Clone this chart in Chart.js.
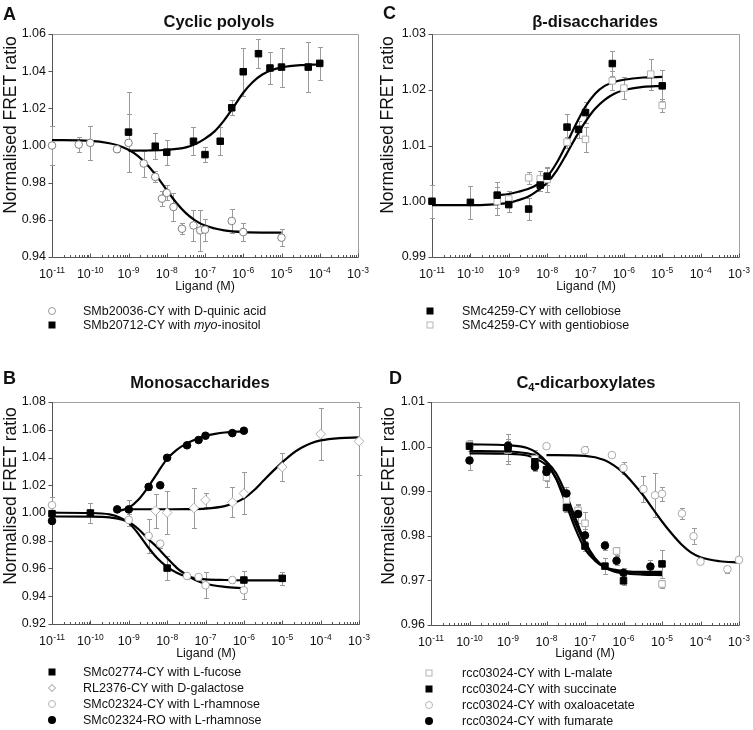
<!DOCTYPE html>
<html>
<head>
<meta charset="utf-8">
<script src="https://cdn.jsdelivr.net/npm/chart.js@4.4.1/dist/chart.umd.min.js"></script>
<style>
body { margin: 0; background: #fff; font-family: "Liberation Sans", Arial, sans-serif; color: #111; }
#fig { position: relative; width: 753px; height: 730px; overflow: hidden; }
canvas { position: absolute; }
.t { position: absolute; white-space: nowrap; }
.letter { font-weight: bold; font-size: 18px; line-height: 20px; }
.ttl { font-weight: bold; font-size: 16.5px; line-height: 20px; transform: translateX(-50%); }
.ttl sub { font-size: 11px; vertical-align: -3px; line-height: 0; }
.xt { font-size: 12.5px; line-height: 14px; transform: translate(-50%, -50%); }
.yt { font-size: 17.5px; line-height: 20px; transform: translate(-50%, -50%) rotate(-90deg); }
.leg { font-size: 12.5px; line-height: 14px; transform: translateY(-50%); }
.mk { position: absolute; box-sizing: border-box; transform: translate(-50%, -50%); }
.oc { width: 8px; height: 8px; border: 1px solid #9a9a9a; border-radius: 50%; background: #fff; }
.fc { width: 8px; height: 8px; border-radius: 50%; background: #000; }
.fs { width: 7px; height: 7px; background: #000; }
.os { width: 7px; height: 7px; border: 1px solid #b5b5b5; background: #fff; }
.od { width: 6px; height: 6px; border: 1px solid #b5b5b5; background: #fff; transform: translate(-50%, -50%) rotate(45deg); }
</style>
</head>
<body>
<div id="fig">
  <canvas id="chartA" width="376" height="300" style="left:0;top:0"></canvas>
  <canvas id="chartC" width="377" height="300" style="left:376px;top:0"></canvas>
  <canvas id="chartB" width="376" height="310" style="left:0;top:360px"></canvas>
  <canvas id="chartD" width="377" height="310" style="left:376px;top:360px"></canvas>

  <!-- A -->
  <div class="t letter" style="left:3px;top:4px">A</div>
  <div class="t ttl" style="left:219px;top:11px">Cyclic polyols</div>
  <div class="t yt" style="left:10px;top:125px">Normalised FRET ratio</div>
  <div class="t xt" style="left:205px;top:286px">Ligand (M)</div>
  <div class="mk oc" style="left:52px;top:311px"></div>
  <div class="t leg" style="left:83px;top:311px">SMb20036-CY with D-quinic acid</div>
  <div class="mk fs" style="left:52px;top:325px"></div>
  <div class="t leg" style="left:83px;top:325px">SMb20712-CY with <i>myo</i>-inositol</div>

  <!-- C -->
  <div class="t letter" style="left:383px;top:3px">C</div>
  <div class="t ttl" style="left:595px;top:11px">β-disaccharides</div>
  <div class="t yt" style="left:387px;top:125px">Normalised FRET ratio</div>
  <div class="t xt" style="left:586px;top:286px">Ligand (M)</div>
  <div class="mk fs" style="left:430px;top:311px"></div>
  <div class="t leg" style="left:462px;top:311px">SMc4259-CY with cellobiose</div>
  <div class="mk os" style="left:430px;top:325px"></div>
  <div class="t leg" style="left:462px;top:325px">SMc4259-CY with gentiobiose</div>

  <!-- B -->
  <div class="t letter" style="left:3px;top:368px">B</div>
  <div class="t ttl" style="left:200px;top:372px">Monosaccharides</div>
  <div class="t yt" style="left:10px;top:496px">Normalised FRET ratio</div>
  <div class="t xt" style="left:206px;top:653px">Ligand (M)</div>
  <div class="mk fs" style="left:52px;top:672px"></div>
  <div class="t leg" style="left:83px;top:672px">SMc02774-CY with L-fucose</div>
  <div class="mk od" style="left:52px;top:688px"></div>
  <div class="t leg" style="left:83px;top:688px">RL2376-CY with D-galactose</div>
  <div class="mk oc" style="left:52px;top:704px;border-color:#b5b5b5"></div>
  <div class="t leg" style="left:83px;top:704px">SMc02324-CY with L-rhamnose</div>
  <div class="mk fc" style="left:52px;top:720px"></div>
  <div class="t leg" style="left:83px;top:720px">SMc02324-RO with L-rhamnose</div>

  <!-- D -->
  <div class="t letter" style="left:389px;top:368px">D</div>
  <div class="t ttl" style="left:586px;top:372px">C<sub>4</sub>-dicarboxylates</div>
  <div class="t yt" style="left:388px;top:496px">Normalised FRET ratio</div>
  <div class="t xt" style="left:585px;top:653px">Ligand (M)</div>
  <div class="mk os" style="left:429px;top:673px"></div>
  <div class="t leg" style="left:462px;top:673px">rcc03024-CY with L-malate</div>
  <div class="mk fs" style="left:429px;top:689px"></div>
  <div class="t leg" style="left:462px;top:689px">rcc03024-CY with succinate</div>
  <div class="mk oc" style="left:429px;top:705px;border-color:#b5b5b5"></div>
  <div class="t leg" style="left:462px;top:705px">rcc03024-CY with oxaloacetate</div>
  <div class="mk fc" style="left:429px;top:721px"></div>
  <div class="t leg" style="left:462px;top:721px">rcc03024-CY with fumarate</div>
</div>

<script>
// ---------------
// DATA
// ---------------

// A: cyclic polyols
const quinicX = [1e-11, 5e-11, 1e-10, 5e-10, 1e-9, 2.5e-9, 5e-9, 7.5e-9, 1e-8, 1.5e-8, 2.5e-8, 5e-8, 7.5e-8, 1e-7, 5e-7, 1e-6, 1e-5];
const quinicY = [1.0000, 1.0005, 1.0014, 0.9980, 1.0014, 0.9903, 0.9831, 0.9714, 0.9745, 0.9669, 0.9552, 0.9570, 0.9543, 0.9547, 0.9594, 0.9534, 0.9504];
const quinicErr = [0.0105, 0.004, 0.009, 0.0015, 0.0155, 0.007, 0.003, 0.004, 0.004, 0.0075, 0.003, 0.0085, 0.011, 0.006, 0.0065, 0.005, 0.0045];
const myoX = [1e-9, 5e-9, 1e-8, 5e-8, 1e-7, 2.5e-7, 5e-7, 1e-6, 2.5e-6, 5e-6, 1e-5, 5e-5, 1e-4];
const myoY = [1.0072, 0.9996, 0.9964, 1.0023, 0.9951, 1.0023, 1.0203, 1.0397, 1.0494, 1.0417, 1.0422, 1.0422, 1.0442];
const myoErr = [0.0215, 0.007, 0.0068, 0.0075, 0.004, 0.0075, 0.004, 0.013, 0.0078, 0.0087, 0.0105, 0.0133, 0.009];
const quinicFitLog = [-11, -10, -9.5, -9.25, -9, -8.75, -8.5, -8.25, -8, -7.75, -7.5, -7.25, -7, -6.5, -6, -5];
const quinicFitY = [1.0029, 1.0025, 1.0012, 0.9999, 0.9977, 0.9943, 0.9894, 0.9831, 0.9760, 0.9692, 0.9636, 0.9596, 0.9569, 0.9543, 0.9534, 0.9531];
const myoFitLog = [-9, -8.5, -8, -7.5, -7.25, -7, -6.75, -6.5, -6.25, -6, -5.75, -5.5, -5.25, -5, -4.5, -4];
const myoFitY = [0.9972, 0.9973, 0.9977, 0.9990, 1.0008, 1.0037, 1.0076, 1.0135, 1.0208, 1.0284, 1.0342, 1.0382, 1.0406, 1.0420, 1.0432, 1.0436];

// C: beta-disaccharides
const celloX = [1e-11, 1e-10, 5e-10, 1e-9, 3.3e-9, 6.6e-9, 1e-8, 3.3e-8, 6.6e-8, 1e-7, 5e-7, 1e-5];
const celloY = [1.0000, 0.9998, 1.0011, 0.9994, 0.9986, 1.0029, 1.0045, 1.0133, 1.0129, 1.0159, 1.0247, 1.0207];
const celloErr = [0.003, 0.003, 0.0024, 0.0013, 0.002, 0.001, 0.0015, 0.0024, 0.0015, 0.0019, 0.0023, 0.0028];
const gentioX = [5e-10, 1e-9, 3.3e-9, 6.6e-9, 1e-8, 3.3e-8, 1e-7, 5e-7, 1e-6, 5e-6, 1e-5];
const gentioY = [1.0000, 1.0004, 1.0042, 1.0040, 1.0039, 1.0106, 1.0111, 1.0216, 1.0203, 1.0228, 1.0172];
const gentioErr = [0.0025, 0.0015, 0.0011, 0.0015, 0.0022, 0.001, 0.0022, 0.0017, 0.0019, 0.0028, 0.0012];
const celloFitLog = [-11, -10, -9.5, -9, -8.75, -8.5, -8.25, -8, -7.75, -7.5, -7.25, -7, -6.75, -6.5, -6.25, -6, -5.5, -5];
const celloFitY = [0.9993, 0.9993, 0.9994, 0.9997, 1.0002, 1.0008, 1.0019, 1.0033, 1.0055, 1.0084, 1.0115, 1.0143, 1.0166, 1.0182, 1.0193, 1.0199, 1.0205, 1.0207];
const gentioFitLog = [-9.3, -9, -8.75, -8.5, -8.25, -8, -7.75, -7.5, -7.25, -7, -6.75, -6.5, -6.25, -6, -5.5, -5];
const gentioFitY = [1.0011, 1.0013, 1.0017, 1.0022, 1.0030, 1.0044, 1.0069, 1.0102, 1.0138, 1.0170, 1.0193, 1.0207, 1.0214, 1.0218, 1.0222, 1.0223];

// B: monosaccharides
const fucX = [1e-11, 1e-10, 1e-8, 1e-6, 1e-5];
const fucY = [0.9995, 1.0000, 0.9603, 0.9517, 0.9529];
const fucErr = [0.002, 0.007, 0.0085, 0.0065, 0.0045];
const galX = [5e-9, 1e-8, 5e-8, 1e-7, 5e-7, 1e-6, 1e-5, 1e-4, 1e-3];
const galY = [1.0017, 1.0003, 1.0036, 1.0093, 1.0077, 1.0141, 1.0331, 1.0569, 1.0517];
const galErr = [0.0123, 0.0157, 0.0143, 0.0048, 0.0107, 0.0151, 0.010, 0.0188, 0.0245];
const rhaX = [1e-11, 1e-9, 3.3e-9, 6.6e-9, 3.3e-8, 6.6e-8, 1e-7, 5e-7, 1e-6];
const rhaY = [1.0057, 0.9950, 0.9835, 0.9779, 0.9546, 0.9539, 0.9479, 0.9517, 0.9443];
const rhaErr = [0.006, 0.0045, 0.012, 0.003, 0.002, 0.002, 0.0095, 0.002, 0.006];
const roX = [1e-11, 5e-10, 1e-9, 3.3e-9, 6.6e-9, 1e-8, 3.3e-8, 6.6e-8, 1e-7, 5e-7, 1e-6];
const roY = [0.9943, 1.0026, 1.0026, 1.0188, 1.0200, 1.0398, 1.0488, 1.0526, 1.0557, 1.0576, 1.0593];
const roErr = [0.002, 0.001, 0.007, 0.002, 0.001, 0.001, 0.001, 0.001, 0.001, 0.002, 0.002];
const fucFitLog = [-11, -10, -9.5, -9.25, -9, -8.75, -8.5, -8.25, -8, -7.75, -7.5, -7.25, -7, -6.5, -6, -5];
const fucFitY = [1.0002, 1.0000, 0.9990, 0.9970, 0.9930, 0.9850, 0.9755, 0.9672, 0.9612, 0.9570, 0.9543, 0.9530, 0.9522, 0.9517, 0.9515, 0.9515];
const galFitLog = [-9, -8, -7.5, -7, -6.5, -6.25, -6, -5.75, -5.5, -5.25, -5, -4.75, -4.5, -4.25, -4, -3.5, -3];
const galFitY = [1.0027, 1.0027, 1.0028, 1.0032, 1.0050, 1.0072, 1.0105, 1.0160, 1.0230, 1.0300, 1.0365, 1.0425, 1.0470, 1.0503, 1.0523, 1.0540, 1.0545];
const rhaFitLog = [-11, -10, -9.5, -9, -8.75, -8.5, -8.25, -8, -7.75, -7.5, -7.25, -7, -6.5, -6];
const rhaFitY = [0.9975, 0.9974, 0.9968, 0.9935, 0.9885, 0.9815, 0.9750, 0.9675, 0.9605, 0.9555, 0.9515, 0.9490, 0.9468, 0.9458];
const roFitLog = [-9.3, -9, -8.75, -8.5, -8.25, -8, -7.75, -7.5, -7.25, -7, -6.75, -6.5, -6];
const roFitY = [1.0012, 1.0038, 1.0095, 1.0185, 1.0290, 1.0390, 1.0455, 1.0500, 1.0532, 1.0555, 1.0570, 1.0580, 1.0588];

// D: C4-dicarboxylates
const malateX = [1e-10, 1e-9, 5e-9, 1e-8, 3.3e-8, 6.6e-8, 1e-7, 6.6e-7, 1e-5];
const malateY = [1.0005, 0.9992, 0.9973, 0.9931, 0.9880, 0.9857, 0.9828, 0.9766, 0.9692];
const malateErr = [0.001, 0.0025, 0.002, 0.0022, 0.0015, 0.0015, 0.0026, 0.001, 0.001];
const succX = [1e-10, 1e-9, 5e-9, 1e-8, 3.3e-8, 1e-7, 3.3e-7, 1e-6, 1e-5];
const succY = [1.0001, 0.9995, 0.9966, 0.9948, 0.9863, 0.9777, 0.9732, 0.9699, 0.9737];
const succErr = [0.001, 0.0033, 0.002, 0.001, 0.001, 0.0012, 0.0018, 0.001, 0.0032];
const oxaX = [1e-8, 1e-7, 5e-7, 1e-6, 3.3e-6, 6.6e-6, 1e-5, 3.3e-5, 6.6e-5, 1e-4, 5e-4, 1e-3];
const oxaY = [1.0001, 0.9992, 0.9981, 0.9952, 0.9905, 0.9891, 0.9894, 0.9850, 0.9799, 0.9742, 0.9725, 0.9746];
const oxaErr = [0.0004, 0.001, 0.0004, 0.0014, 0.003, 0.0049, 0.0015, 0.0013, 0.0018, 0.0004, 0.0008, 0.0004];
const fumX = [1e-10, 1e-9, 5e-9, 1e-8, 3.3e-8, 6.6e-8, 1e-7, 3.3e-7, 6.6e-7, 1e-6, 5e-6];
const fumY = [0.9969, 1.0002, 0.9955, 0.9943, 0.9895, 0.9849, 0.9801, 0.9778, 0.9744, 0.9717, 0.9731];
const fumErr = [0.0022, 0.001, 0.0008, 0.002, 0.0015, 0.002, 0.0015, 0.001, 0.001, 0.001, 0.0015];
const dFitLog = [-10, -9, -8.5, -8.25, -8, -7.75, -7.5, -7.25, -7, -6.75, -6.5, -6.25, -6, -5.5, -5];
const succFitY = [1.0005, 1.0003, 0.9997, 0.9986, 0.9965, 0.9928, 0.9873, 0.9816, 0.9770, 0.9745, 0.9730, 0.9724, 0.9721, 0.9719, 0.9719];
const malateFitY = [0.9990, 0.9989, 0.9985, 0.9979, 0.9966, 0.9940, 0.9895, 0.9840, 0.9787, 0.9751, 0.9730, 0.9720, 0.9716, 0.9713, 0.9712];
const fumFitY = [0.9985, 0.9984, 0.9980, 0.9972, 0.9958, 0.9929, 0.9883, 0.9829, 0.9781, 0.9748, 0.9730, 0.9722, 0.9719, 0.9717, 0.9716];
const oxaFitLog = [-8, -7, -6.5, -6.25, -6, -5.75, -5.5, -5.25, -5, -4.75, -4.5, -4.25, -4, -3.5, -3];
const oxaFitY = [0.9981, 0.9979, 0.9970, 0.9958, 0.9941, 0.9918, 0.9892, 0.9862, 0.9832, 0.9805, 0.9781, 0.9763, 0.9752, 0.9743, 0.9740];

// ---------------
// HELPERS
// ---------------
const FONT = '"Liberation Sans", Arial, sans-serif';
Chart.defaults.font.family = FONT;
Chart.defaults.color = '#111';

const isDecade = (v) => { const e = Math.log10(v); return Math.abs(e - Math.round(e)) < 1e-6; };

// decades plus minor 2..9 ticks
const logTicks = (scale) => {
	const ticks = [];
	for (let e = -11; e <= -3; e++) {
		for (let m = 1; m <= 9; m++) {
			if (e === -3 && m > 1) break;
			ticks.push({ value: m * Math.pow(10, e) });
		}
	}
	scale.ticks = ticks;
};

const points = (xs, ys, errs, shape, r, fill, stroke) => ({
	data: xs.map((x, i) => ({ x: x, y: ys[i] })),
	err: errs,
	showLine: false,
	pointStyle: shape,
	pointRadius: r,
	pointBackgroundColor: fill,
	pointBorderColor: stroke,
	pointBorderWidth: 1,
});

const fitLine = (logs, ys) => ({
	data: logs.map((e, i) => ({ x: Math.pow(10, e), y: ys[i] })),
	showLine: true,
	pointRadius: 0,
	borderColor: '#000',
	borderWidth: 2.2,
	cubicInterpolationMode: 'monotone',
	fill: false,
});

// box, axis lines, tick marks and 10^n labels with real superscripts
const axisFrame = {
	id: 'axisFrame',
	beforeDatasetsDraw(chart) {
		const { ctx, chartArea: a, scales: { x, y } } = chart;
		ctx.save();
		ctx.lineWidth = 1;
		ctx.strokeStyle = '#a0a0a0';
		ctx.beginPath();
		ctx.moveTo(a.left, a.top + 0.5); ctx.lineTo(a.right + 0.5, a.top + 0.5);
		ctx.lineTo(a.right + 0.5, a.bottom);
		ctx.stroke();
		ctx.strokeStyle = '#555';
		ctx.beginPath();
		ctx.moveTo(a.left + 0.5, a.top); ctx.lineTo(a.left + 0.5, a.bottom + 0.5);
		ctx.lineTo(a.right + 0.5, a.bottom + 0.5);
		x.ticks.forEach(t => {
			const px = Math.round(x.getPixelForValue(t.value)) + 0.5;
			const len = isDecade(t.value) ? 4 : 2.5;
			ctx.moveTo(px, a.bottom + 0.5); ctx.lineTo(px, a.bottom + 0.5 - len);
		});
		y.ticks.forEach(t => {
			const py = Math.round(y.getPixelForValue(t.value)) + 0.5;
			ctx.moveTo(a.left + 0.5, py); ctx.lineTo(a.left - 3.5, py);
		});
		ctx.stroke();

		// x labels
		const base = a.bottom + 21;
		ctx.fillStyle = '#111';
		ctx.textBaseline = 'alphabetic';
		ctx.textAlign = 'left';
		x.ticks.forEach(t => {
			if (!isDecade(t.value)) return;
			const ex = String(Math.round(Math.log10(t.value)));
			ctx.font = '12.5px ' + FONT;
			const w1 = ctx.measureText('10').width;
			ctx.font = '8.5px ' + FONT;
			const w2 = ctx.measureText(ex).width;
			const start = x.getPixelForValue(t.value) - (w1 + w2 + 0.5) / 2;
			ctx.font = '12.5px ' + FONT;
			ctx.fillText('10', start, base);
			ctx.font = '8.5px ' + FONT;
			ctx.fillText(ex, start + w1 + 0.5, base - 5.5);
		});
		ctx.restore();
	}
};

// vertical error bars with caps, under the markers
const errorBars = {
	id: 'errorBars',
	beforeDatasetsDraw(chart) {
		const { ctx, scales: { x, y } } = chart;
		ctx.save();
		ctx.strokeStyle = '#9a9a9a';
		ctx.lineWidth = 1;
		chart.data.datasets.forEach(ds => {
			if (!ds.err) return;
			ds.data.forEach((p, i) => {
				const e = ds.err[i];
				if (!e) return;
				const px = Math.round(x.getPixelForValue(p.x)) + 0.5;
				const y1 = Math.round(y.getPixelForValue(p.y + e)) + 0.5;
				const y2 = Math.round(y.getPixelForValue(p.y - e)) + 0.5;
				ctx.beginPath();
				ctx.moveTo(px, y1); ctx.lineTo(px, y2);
				ctx.moveTo(px - 2.5, y1); ctx.lineTo(px + 2.5, y1);
				ctx.moveTo(px - 2.5, y2); ctx.lineTo(px + 2.5, y2);
				ctx.stroke();
			});
		});
		ctx.restore();
	}
};

const makePanel = (id, datasets, o) => new Chart(document.getElementById(id), {
	type: 'scatter',
	data: { datasets: datasets },
	options: {
		responsive: false,
		animation: false,
		devicePixelRatio: 1,
		clip: false,
		layout: { padding: { top: o.top, right: o.right, left: 0, bottom: 0 } },
		plugins: { legend: { display: false }, tooltip: { enabled: false } },
		scales: {
			x: {
				type: 'logarithmic',
				min: 1e-11,
				max: 1e-3,
				afterBuildTicks: logTicks,
				afterFit: (s) => { s.height = o.xh; },
				grid: { display: false, drawTicks: false },
				border: { display: false },
				ticks: { display: false, autoSkip: false },
			},
			y: {
				min: o.ymin,
				max: o.ymax,
				afterFit: (s) => { s.width = o.yw; },
				grid: { display: false, drawTicks: false },
				border: { display: false },
				ticks: { stepSize: o.step, padding: 6, color: '#111', font: { size: 12.5 }, callback: (v) => v.toFixed(2) },
			},
		},
	},
	plugins: [axisFrame, errorBars],
});

// ---------------
// CHARTS
// ---------------
makePanel('chartA', [
	points(myoX, myoY, myoErr, 'rect', 4.6, '#000', '#000'),
	points(quinicX, quinicY, quinicErr, 'circle', 3.8, '#fff', '#808080'),
	fitLine(quinicFitLog, quinicFitY),
	fitLine(myoFitLog, myoFitY),
], { top: 34, right: 18, yw: 52, xh: 43, ymin: 0.94, ymax: 1.06, step: 0.02 });

makePanel('chartC', [
	points(celloX, celloY, celloErr, 'rect', 4.6, '#000', '#000'),
	points(gentioX, gentioY, gentioErr, 'rect', 4.6, '#fff', '#b0b0b0'),
	fitLine(celloFitLog, celloFitY),
	fitLine(gentioFitLog, gentioFitY),
], { top: 34, right: 14, yw: 56, xh: 43, ymin: 0.99, ymax: 1.03, step: 0.01 });

makePanel('chartB', [
	points(roX, roY, roErr, 'circle', 3.8, '#000', '#000'),
	points(fucX, fucY, fucErr, 'rect', 4.6, '#000', '#000'),
	points(rhaX, rhaY, rhaErr, 'circle', 3.8, '#fff', '#a8a8a8'),
	points(galX, galY, galErr, 'rectRot', 4.8, '#fff', '#b0b0b0'),
	fitLine(fucFitLog, fucFitY),
	fitLine(rhaFitLog, rhaFitY),
	fitLine(roFitLog, roFitY),
	fitLine(galFitLog, galFitY),
], { top: 42, right: 17, yw: 52, xh: 46, ymin: 0.92, ymax: 1.08, step: 0.02 });

makePanel('chartD', [
	points(fumX, fumY, fumErr, 'circle', 3.8, '#000', '#000'),
	points(succX, succY, succErr, 'rect', 4.6, '#000', '#000'),
	points(malateX, malateY, malateErr, 'rect', 4.6, '#fff', '#aaaaaa'),
	points(oxaX, oxaY, oxaErr, 'circle', 3.8, '#fff', '#aaaaaa'),
	fitLine(dFitLog, succFitY),
	fitLine(dFitLog, malateFitY),
	fitLine(dFitLog, fumFitY),
	fitLine(oxaFitLog, oxaFitY),
], { top: 42, right: 14, yw: 55, xh: 45, ymin: 0.96, ymax: 1.01, step: 0.01 });
</script>
</body>
</html>
